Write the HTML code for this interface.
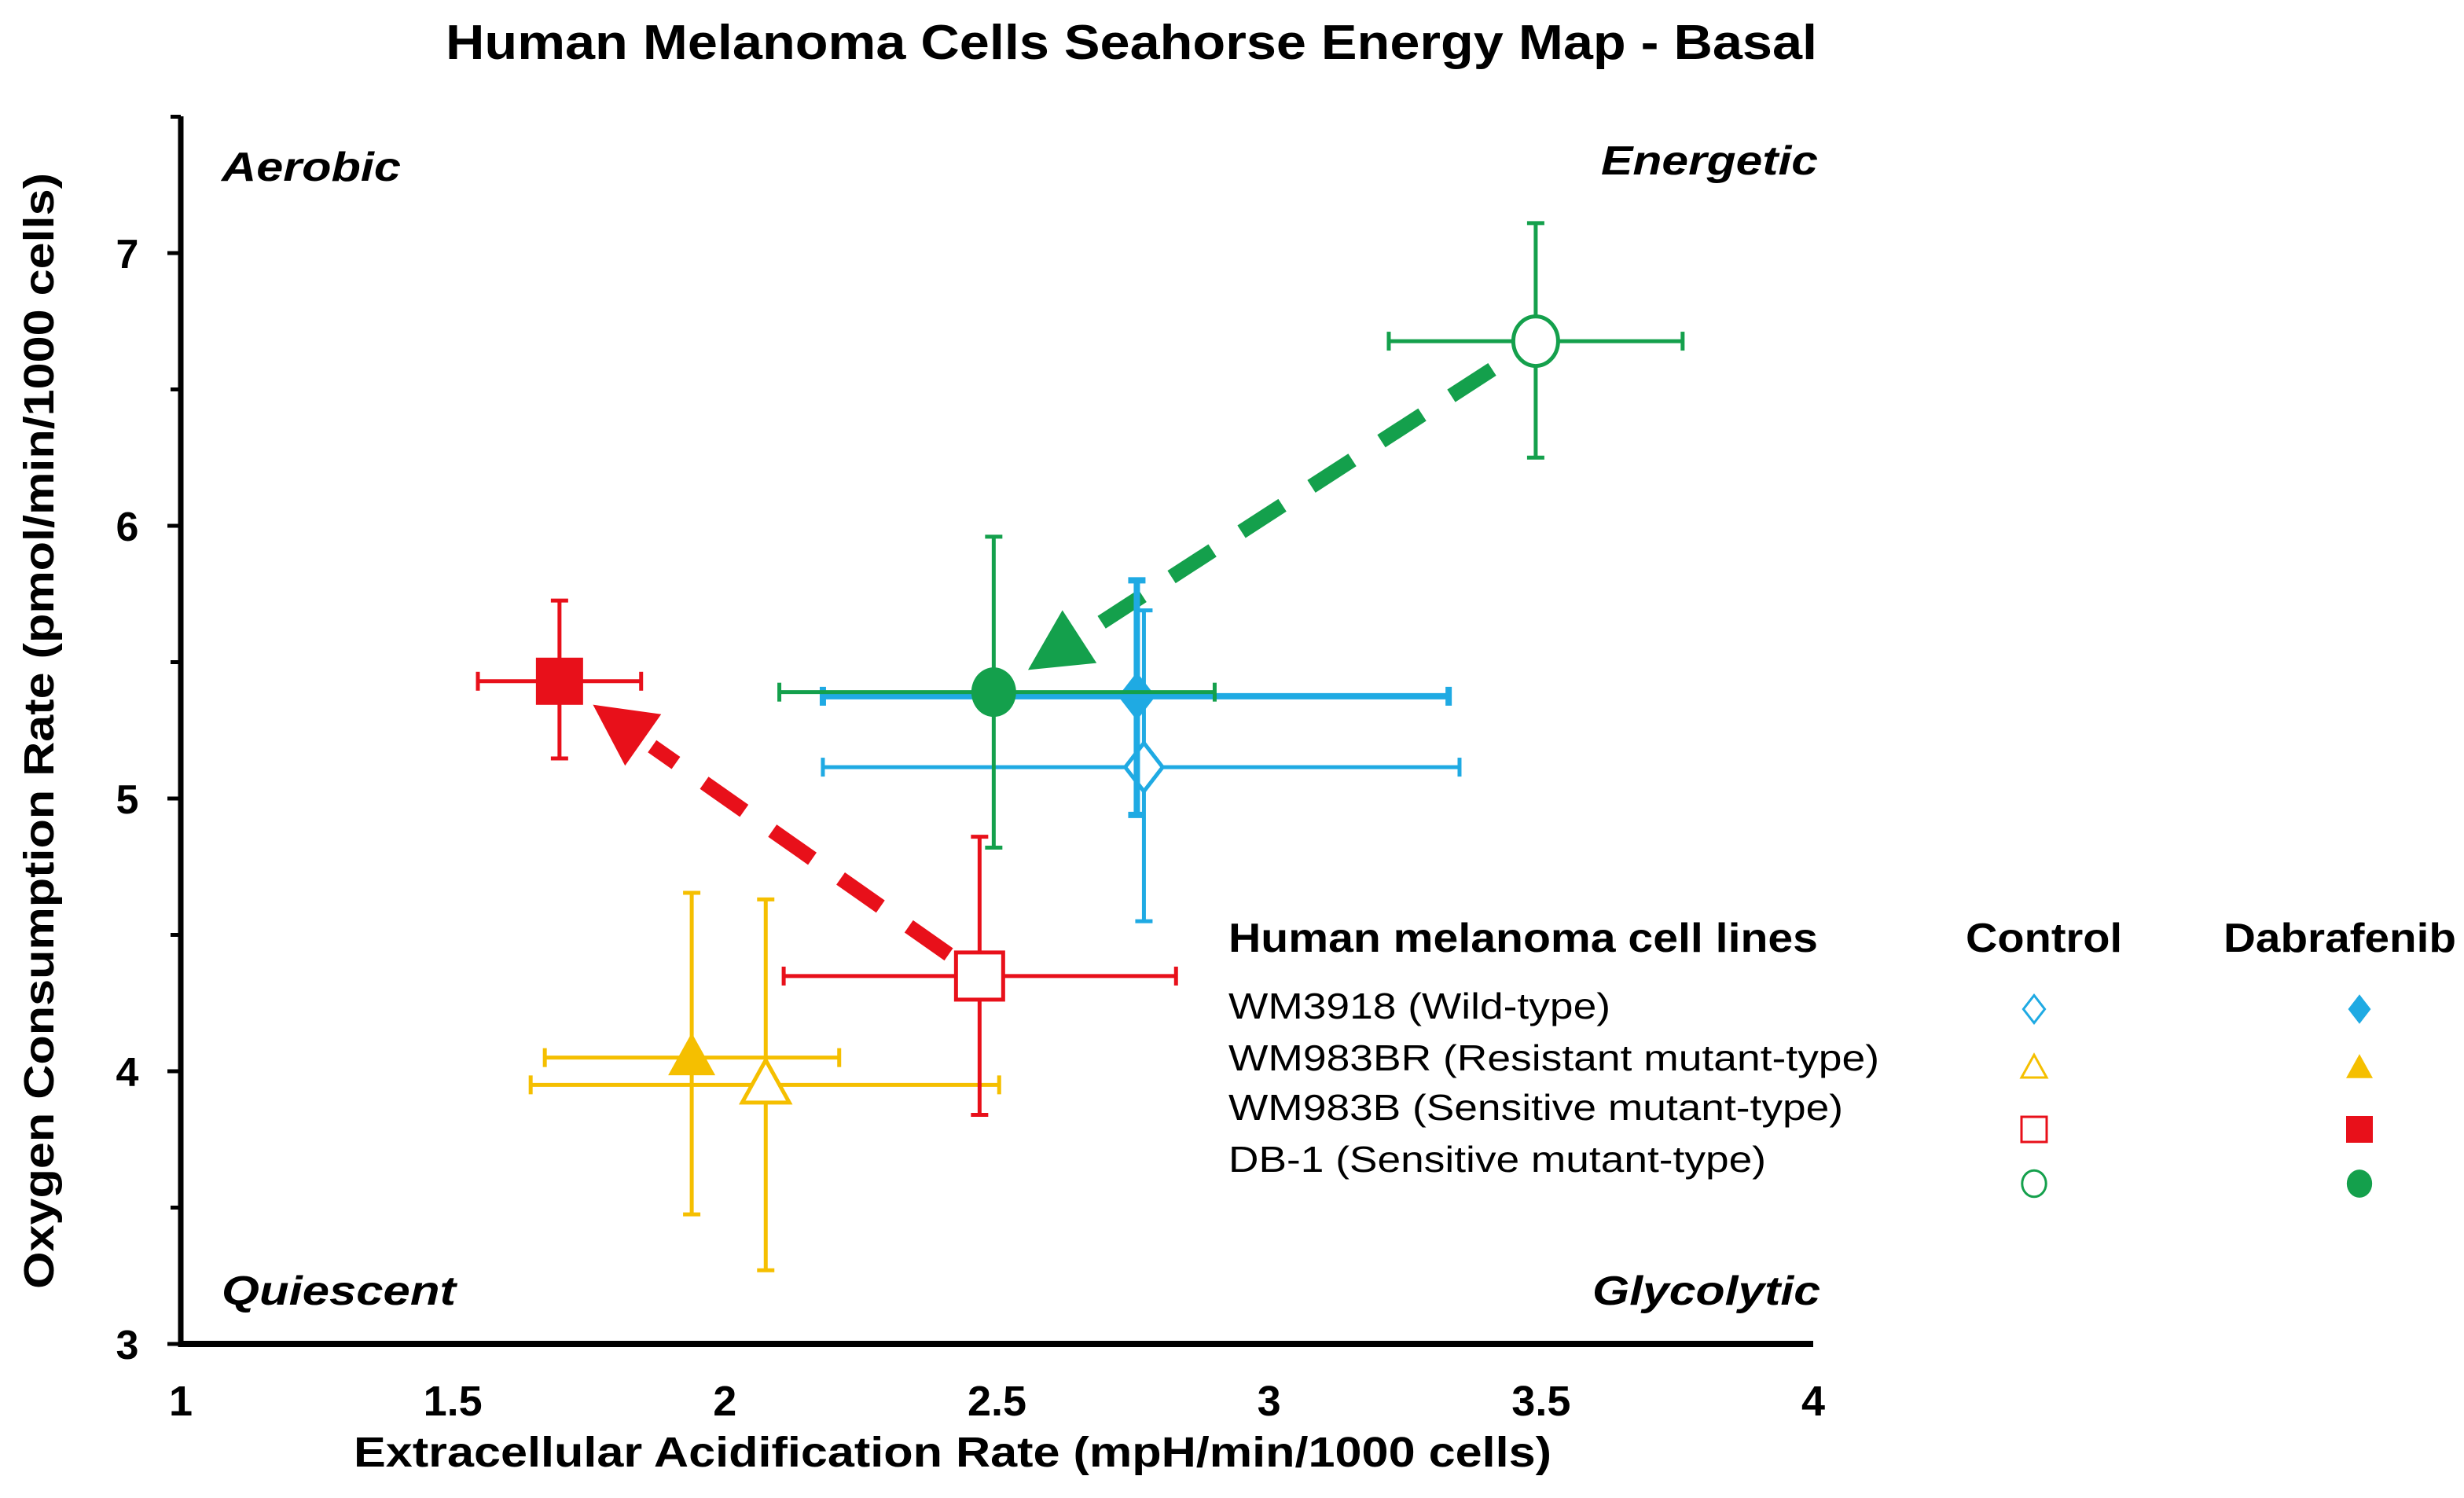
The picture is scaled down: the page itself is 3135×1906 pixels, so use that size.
<!DOCTYPE html>
<html><head><meta charset="utf-8"><style>
html,body{margin:0;padding:0;background:#fff;}
svg{display:block;}
text{font-family:"Liberation Sans",Arial,sans-serif;}
</style></head><body>
<svg id="chart" width="3135" height="1906" viewBox="0 0 3135 1906" xmlns="http://www.w3.org/2000/svg">
<text x="567" y="75" font-size="62" font-weight="bold" textLength="1745" lengthAdjust="spacingAndGlyphs">Human Melanoma Cells Seahorse Energy Map - Basal</text>
<g font-size="52" font-weight="bold" font-style="italic">
<text x="282" y="230" textLength="228" lengthAdjust="spacingAndGlyphs">Aerobic</text>
<text x="2037" y="222" textLength="276" lengthAdjust="spacingAndGlyphs">Energetic</text>
<text x="282" y="1660" textLength="298" lengthAdjust="spacingAndGlyphs">Quiescent</text>
<text x="2026" y="1660" textLength="290" lengthAdjust="spacingAndGlyphs">Glycolytic</text>
</g>
<g id="axes"></g>
<g id="arrows"></g>
<g id="series"></g>
<text x="450" y="1866" font-size="54" font-weight="bold" textLength="1524" lengthAdjust="spacingAndGlyphs">Extracellular Acidification Rate (mpH/min/1000 cells)</text>
<text transform="translate(68,1640) rotate(-90)" font-size="54" font-weight="bold" textLength="1420" lengthAdjust="spacingAndGlyphs">Oxygen Consumption Rate (pmol/min/1000 cells)</text>
<g>
<text x="1563" y="1211" font-size="52" font-weight="bold" textLength="750" lengthAdjust="spacingAndGlyphs">Human melanoma cell lines</text>
<text x="2501" y="1211" font-size="52" font-weight="bold" textLength="199" lengthAdjust="spacingAndGlyphs">Control</text>
<text x="2829" y="1211" font-size="52" font-weight="bold" textLength="296" lengthAdjust="spacingAndGlyphs">Dabrafenib</text>
<g id="legend-rows"></g>
</g>
</svg>
<script>
const cellLines = ["WM3918 (Wild-type)","WM983BR (Resistant mutant-type)","WM983B (Sensitive mutant-type)","DB-1 (Sensitive mutant-type)"];
const colors = ["#1faae3","#f5bf00","#e8101a","#14a04c"];
const shapes = ["diamond","triangle","square","circle"];
const ctrlX = [2.77, 2.075, 2.468, 3.49];
const ctrlY = [5.115, 3.95, 4.349, 6.677];
const ctrlXLo = [2.18, 1.643, 2.108, 3.22];
const ctrlXHi = [3.35, 2.504, 2.829, 3.76];
const ctrlYLo = [4.55, 3.27, 3.84, 6.25];
const ctrlYHi = [5.69, 4.63, 4.86, 7.11];
const dabX = [2.757, 1.939, 1.696, 2.494];
const dabY = [5.375, 4.05, 5.43, 5.39];
const dabXLo = [2.18, 1.669, 1.546, 2.10];
const dabXHi = [3.33, 2.21, 1.846, 2.90];
const dabYLo = [4.94, 3.475, 5.147, 4.82];
const dabYHi = [5.80, 4.654, 5.726, 5.96];
const xTicks = [1, 1.5, 2, 2.5, 3, 3.5, 4];
const xTickLabels = ["1","1.5","2","2.5","3","3.5","4"];
const yTicks = [3, 4, 5, 6, 7];
const yTickLabels = ["3","4","5","6","7"];
const yMinorTicks = [3.5, 4.5, 5.5, 6.5, 7.5];

const NS = "http://www.w3.org/2000/svg";
const X0 = 230, X1 = 2307, Y0 = 1710, Y1 = 322;
function sx(v){ return X0 + (v - 1) / 3 * (X1 - X0); }
function sy(v){ return Y0 - (v - 3) / 4 * (Y0 - Y1); }
function mk(tag, attrs, parent){ const e = document.createElementNS(NS, tag); for (const k in attrs) e.setAttribute(k, attrs[k]); parent.appendChild(e); return e; }

const axes = document.getElementById("axes");
let a = mk("line", {x1:X0, y1:Y0, x2:X1, y2:Y0, stroke:"#000", "stroke-width":8}, axes);


a = mk("line", {x1:X0, y1:Y0+4, x2:X0, y2:148, stroke:"#000", "stroke-width":7}, axes);


xTicks.forEach((t, i) => {
  const tx = mk("text", {x:sx(t), y:1801, "font-size":54, "font-weight":"bold", "text-anchor":"middle"}, axes);
  tx.textContent = xTickLabels[i];
  
  
});
yTicks.forEach((t, i) => {
  const l = mk("line", {x1:X0-17, y1:sy(t), x2:X0, y2:sy(t), stroke:"#000", "stroke-width":5}, axes);
  
  
  const tx = mk("text", {x:162, y:sy(t)+19, "font-size":52, "font-weight":"bold", "text-anchor":"middle"}, axes);
  tx.textContent = yTickLabels[i];
  
  
});
yMinorTicks.forEach(t => {
  const l = mk("line", {x1:X0-13, y1:sy(t), x2:X0, y2:sy(t), stroke:"#000", "stroke-width":5}, axes);
  
  
});

function marker(parent, shape, cx, cy, color, filled, s){
  const fill = filled ? color : "#fff";
  const sw = filled ? 0 : 5;
  let e;
  if (shape === "diamond") e = mk("polygon", {points:`${cx},${cy-s*1.1} ${cx+s*0.85},${cy} ${cx},${cy+s*1.1} ${cx-s*0.85},${cy}`, fill:fill, stroke:color, "stroke-width":sw}, parent);
  else if (shape === "triangle") e = mk("polygon", {points:`${cx},${cy-s*1.05} ${cx+s},${cy+s*0.75} ${cx-s},${cy+s*0.75}`, fill:fill, stroke:color, "stroke-width":sw}, parent);
  else if (shape === "square") e = mk("rect", {x:cx-s, y:cy-s, width:2*s, height:2*s, fill:fill, stroke:color, "stroke-width":sw}, parent);
  else e = mk("ellipse", {cx:cx, cy:cy, rx:s*0.95, ry:s*1.05, fill:fill, stroke:color, "stroke-width":sw}, parent);
  return e;
}

function errorbars(parent, x, y, xlo, xhi, ylo, yhi, color, w){
  const g = mk("g", {stroke:color, "stroke-width":w, fill:"none"}, parent);
  const px = sx(x), py = sy(y);
  mk("line", {x1:sx(xlo), y1:py, x2:sx(xhi), y2:py}, g);
  mk("line", {x1:sx(xlo), y1:py-12, x2:sx(xlo), y2:py+12}, g);
  mk("line", {x1:sx(xhi), y1:py-12, x2:sx(xhi), y2:py+12}, g);
  mk("line", {x1:px, y1:sy(yhi), x2:px, y2:sy(ylo)}, g);
  mk("line", {x1:px-11, y1:sy(yhi), x2:px+11, y2:sy(yhi)}, g);
  mk("line", {x1:px-11, y1:sy(ylo), x2:px+11, y2:sy(ylo)}, g);
  return g;
}

const arrowsG = document.getElementById("arrows");
function arrow(i, color, startOff, endOff){
  const x1 = sx(ctrlX[i]), y1 = sy(ctrlY[i]), x2 = sx(dabX[i]), y2 = sy(dabY[i]);
  const dx = x2 - x1, dy = y2 - y1, L = Math.hypot(dx, dy), ux = dx / L, uy = dy / L;
  const sxp = x1 + ux * startOff, syp = y1 + uy * startOff;
  const tipx = x2 - ux * endOff, tipy = y2 - uy * endOff;
  const hl = 78, hw = 40;
  const bx = tipx - ux * hl, by = tipy - uy * hl;
  const g = mk("g", {}, arrowsG);
  
  
  mk("line", {x1:sxp, y1:syp, x2:bx - ux*14, y2:by - uy*14, stroke:color, "stroke-width":19, "stroke-dasharray":"62 44"}, g);
  mk("polygon", {points:`${tipx},${tipy} ${bx - uy*hw},${by + ux*hw} ${bx + uy*hw},${by - ux*hw}`, fill:color}, g);
}
arrow(2, "#e8101a", 48, 52);
arrow(3, "#14a04c", 66, 52);

const seriesG = document.getElementById("series");
const sizes = [28, 30, 30, 30];
cellLines.forEach((name, i) => {
  const key = ["wm3918","wm983br","wm983b","db1"][i];
  const gc = mk("g", {}, seriesG);
  
  
  errorbars(gc, ctrlX[i], ctrlY[i], ctrlXLo[i], ctrlXHi[i], ctrlYLo[i], ctrlYHi[i], colors[i], 5);
  marker(gc, shapes[i], sx(ctrlX[i]), sy(ctrlY[i]), colors[i], false, sizes[i]);
  const gd = mk("g", {}, seriesG);
  
  
  errorbars(gd, dabX[i], dabY[i], dabXLo[i], dabXHi[i], dabYLo[i], dabYHi[i], colors[i], i === 0 ? 8 : 5);
  marker(gd, shapes[i], sx(dabX[i]), sy(dabY[i]), colors[i], true, sizes[i]);
});

const lr = document.getElementById("legend-rows");
const rowBase = [1296, 1362, 1425, 1491];
const rowMark = [1284, 1359, 1437, 1506];
const rowLen = [486, 828, 782, 684];
cellLines.forEach((name, i) => {
  const t = mk("text", {x:1563, y:rowBase[i], "font-size":46, textLength:rowLen[i], lengthAdjust:"spacingAndGlyphs"}, lr);
  t.textContent = name;
  
  
  const m1 = marker(lr, shapes[i], 2588, rowMark[i], colors[i], false, 16);
  m1.setAttribute('stroke-width', 3);
  
  
  const m2 = marker(lr, shapes[i], 3002, rowMark[i], colors[i], true, 17);
  
  
});
</script>
</body></html>
